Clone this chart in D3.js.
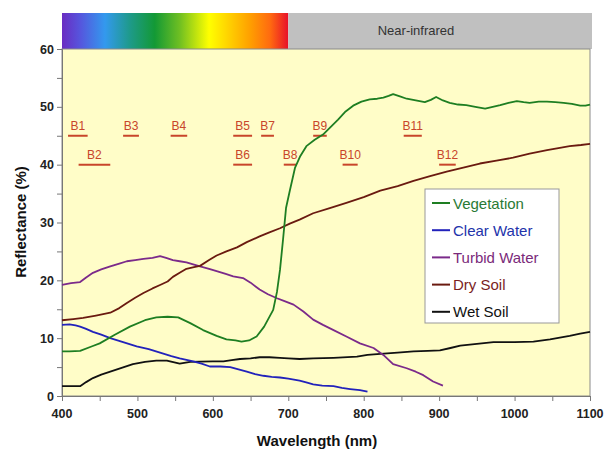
<!DOCTYPE html>
<html><head><meta charset="utf-8">
<script src="https://cdn.jsdelivr.net/npm/d3@7"></script>
<style>body{margin:0;background:#fff}svg{display:block;font-family:Arial,"Liberation Sans",sans-serif}</style>
</head><body><svg id="c" width="608" height="453"></svg>
<script>
// ---- data ----
const seriesNames = ["Vegetation","Clear Water","Turbid Water","Dry Soil","Wet Soil"];
const vegWl = [400,410,424,440,450,470,490,510,525,540,554,570,587,605,618,630,638,648,658,668,680,685,689,693,697,702,709,716,724,735,746,756,766,776,786,797,808,818,826,833,839,848,857,869,881,889,896,905,914,925,936,948,961,971,981,992,1003,1012,1020,1032,1043,1054,1065,1076,1087,1094,1100];
const vegR  = [7.7,7.7,7.8,8.6,9.1,10.6,12.0,13.1,13.6,13.7,13.6,12.6,11.4,10.4,9.8,9.6,9.4,9.6,10.3,12.0,14.9,18,21.8,27,32.5,35.5,39.5,41.5,43.2,44.3,45.2,46.5,47.8,49.2,50.2,50.9,51.3,51.4,51.6,51.9,52.2,51.8,51.4,51.1,50.8,51.2,51.7,51.1,50.7,50.4,50.3,50.0,49.7,50.0,50.3,50.7,51.0,50.8,50.7,50.9,50.9,50.8,50.7,50.5,50.2,50.2,50.4];
const clearWl = [400,410,418,424,432,441,452,464,481,499,515,530,545,556,574,585,596,610,623,634,645,656,667,678,689,700,715,725,733,745,760,771,782,795,805];
const clearR  = [12.3,12.4,12.2,12.0,11.6,11.1,10.6,10.0,9.3,8.6,8.1,7.5,6.9,6.5,6.0,5.6,5.1,5.1,5.0,4.6,4.2,3.8,3.5,3.3,3.2,3.0,2.65,2.3,2.0,1.8,1.7,1.4,1.2,1.0,0.75];
const turbWl = [400,412,424,432,441,452,464,476,486,497,508,520,530,538,547,556,565,575,583,595,605,617,627,640,650,662,673,685,695,707,720,733,746,760,777,795,813,826,839,857,869,879,892,905];
const turbR  = [19.2,19.5,19.7,20.5,21.3,21.9,22.4,22.9,23.3,23.5,23.7,23.9,24.2,23.9,23.5,23.3,23.1,22.7,22.4,22.0,21.6,21.1,20.7,20.4,19.6,18.4,17.6,16.9,16.4,15.8,14.6,13.2,12.3,11.4,10.3,9.1,8.3,7.1,5.5,4.8,4.2,3.6,2.5,1.8];
const dryWl = [400,415,428,445,464,476,486,497,508,520,530,540,547,556,565,575,583,595,605,618,632,645,662,675,689,702,715,733,755,777,800,822,845,866,888,910,932,954,976,998,1020,1043,1060,1073,1088,1100];
const dryR  = [13.1,13.3,13.5,13.9,14.4,15.2,16.1,17.0,17.8,18.6,19.2,19.8,20.6,21.3,22.0,22.3,22.5,23.5,24.3,25.0,25.7,26.6,27.6,28.3,29.0,29.8,30.5,31.6,32.5,33.4,34.4,35.5,36.3,37.2,38.0,38.8,39.5,40.2,40.7,41.2,41.9,42.5,42.9,43.2,43.4,43.6];
const wetWl = [400,412,424,432,441,452,464,480,494,510,525,539,556,570,583,600,614,625,636,650,662,675,689,700,715,733,760,791,805,822,845,866,885,901,915,928,950,972,1000,1025,1047,1060,1073,1087,1100];
const wetR  = [1.7,1.7,1.7,2.4,3.1,3.7,4.2,4.9,5.5,5.9,6.1,6.1,5.6,5.9,5.95,6.0,6.0,6.2,6.4,6.5,6.7,6.7,6.6,6.5,6.4,6.5,6.6,6.8,7.1,7.3,7.5,7.7,7.8,7.9,8.3,8.7,9.0,9.3,9.3,9.4,9.8,10.1,10.4,10.8,11.1];
const bandNames = ["B1","B2","B3","B4","B5","B6","B7","B8","B9","B10","B11","B12"];
const bandStart = [408,422,481,544,627,627,664,694,733,772,853,900];
const bandEnd   = [434,464,502,566,652,652,681,711,751,792,877,922];
const bandLevel = [45,40,45,45,45,40,45,40,45,40,45,40];
const xTicks = [400,500,600,700,800,900,1000,1100];
const yTicks = [0,10,20,30,40,50,60];
const spectrumEnd = 700;
const nirLabel = "Near-infrared";
const colors = ["#1E7E22","#2222BB","#7B2A8A","#6A1A10","#111111"];
const textColors = ["#2A7A35","#2233AA","#7A2A7A","#7A1E1E","#111111"];

// ---- layout ----
const svg = d3.select("#c");
const L=62,R=590,T=49,B=396;
const x = d3.scaleLinear().domain([400,1100]).range([L,R]);
const y = d3.scaleLinear().domain([0,60]).range([B,T]);

// spectrum bar
const defs = svg.append("defs");
const g = defs.append("linearGradient").attr("id","spec");
[[0,"#6A2CC2"],[0.08,"#5655DD"],[0.19,"#3399EE"],[0.3,"#1E9A8A"],[0.41,"#139935"],[0.52,"#6FBF22"],[0.65,"#FFFF00"],[0.83,"#FFA000"],[0.92,"#FF6A10"],[1,"#E8102A"]]
  .forEach(s=>g.append("stop").attr("offset",s[0]).attr("stop-color",s[1]));
svg.append("rect").attr("x",x(400)).attr("y",13).attr("width",x(spectrumEnd)-x(400)).attr("height",T-13).attr("fill","url(#spec)");
svg.append("rect").attr("x",x(spectrumEnd)).attr("y",13).attr("width",x(1100)-x(spectrumEnd)+2).attr("height",T-13).attr("fill","#C0C0C0");
svg.append("text").attr("x",416).attr("y",35).attr("text-anchor","middle").attr("font-size",13).attr("fill","#333").text(nirLabel);

// plot bg
svg.append("rect").attr("x",L).attr("y",T).attr("width",R-L).attr("height",B-T).attr("fill","#FFFDC8").attr("stroke","#8a8a8a").attr("stroke-width",1);

// axes
const yAx = svg.append("g").attr("transform",`translate(${L},0)`)
  .call(d3.axisLeft(y).tickValues(d3.range(0,61,5)).tickSize(5).tickFormat(""));
yAx.select(".domain").attr("stroke","#777");
yAx.selectAll("line").attr("stroke","#777");
const xAx = svg.append("g").attr("transform",`translate(0,${B})`)
  .call(d3.axisBottom(x).tickValues(d3.range(400,1101,50)).tickSize(5).tickFormat(""));
xAx.select(".domain").attr("stroke","#777");
xAx.selectAll("line").attr("stroke","#777");
svg.selectAll(".ytl").data(yTicks).enter().append("text").attr("class","ytl")
  .attr("x",L-8).attr("y",d=>y(d)+4.5).attr("text-anchor","end").attr("font-size",12.5).attr("font-weight","bold").attr("fill","#222").text(d=>d);
svg.selectAll(".xtl").data(xTicks).enter().append("text").attr("class","xtl")
  .attr("x",d=>x(d)).attr("y",B+22).attr("text-anchor","middle").attr("font-size",12.5).attr("font-weight","bold").attr("fill","#222").text(d=>d);
svg.append("text").attr("x",317).attr("y",446).attr("text-anchor","middle").attr("font-size",15).attr("font-weight","bold").attr("fill","#111").text("Wavelength (nm)");
svg.append("text").attr("transform","translate(26,222) rotate(-90)").attr("text-anchor","middle").attr("font-size",15).attr("font-weight","bold").attr("fill","#111").text("Reflectance (%)");

// bands
const bandColor="#C8452A";
bandNames.forEach((n,i)=>{
  svg.append("line").attr("x1",x(bandStart[i])).attr("x2",x(bandEnd[i])).attr("y1",y(bandLevel[i])).attr("y2",y(bandLevel[i])).attr("stroke",bandColor).attr("stroke-width",2);
  svg.append("text").attr("x",(x(bandStart[i])+x(bandEnd[i]))/2).attr("y",y(bandLevel[i])-6).attr("text-anchor","middle").attr("font-size",12).attr("fill",bandColor).text(n);
});

// lines
const series = [[vegWl,vegR],[clearWl,clearR],[turbWl,turbR],[dryWl,dryR],[wetWl,wetR]];
const line = d3.line().x(d=>x(d[0])).y(d=>y(d[1]));
// draw order: so green on top of others near crossing
[4,1,2,3,0].forEach(i=>{
  const pts = series[i][0].map((w,k)=>[w,series[i][1][k]]);
  svg.append("path").attr("d",line(pts)).attr("fill","none").attr("stroke",colors[i]).attr("stroke-width",1.8).attr("stroke-linejoin","round");
});

// legend
const lg = svg.append("g");
lg.append("rect").attr("x",425).attr("y",189).attr("width",134).attr("height",134).attr("fill","#fff").attr("stroke","#999");
seriesNames.forEach((n,i)=>{
  const yy = 203 + i*27.2;
  lg.append("line").attr("x1",432).attr("x2",450).attr("y1",yy).attr("y2",yy).attr("stroke",colors[i]).attr("stroke-width",2);
  lg.append("text").attr("x",453).attr("y",yy+5.5).attr("font-size",15).attr("fill",textColors[i]).text(n);
});
</script></body></html>
